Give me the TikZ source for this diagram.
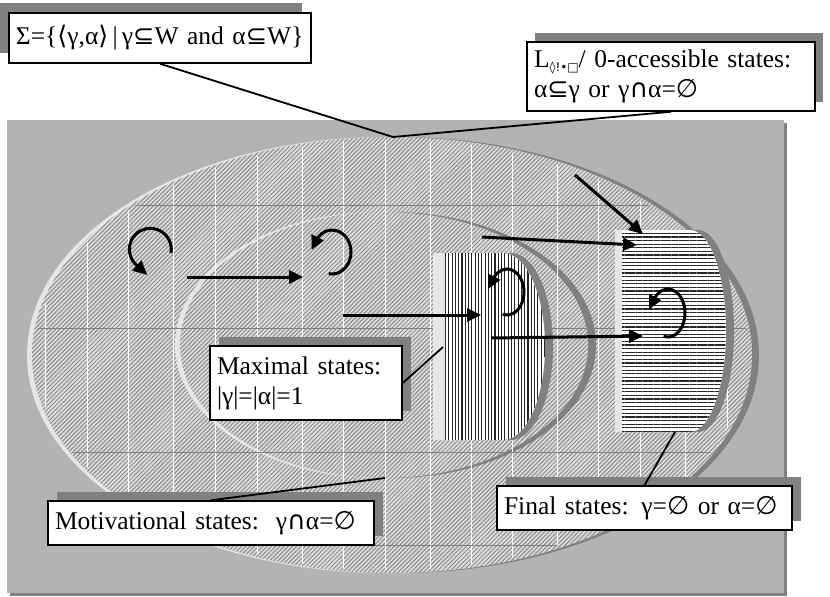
\documentclass[tikz,border=0pt]{standalone}
\usepackage{fontspec}
\setmainfont{Liberation Serif}
\newfontfamily\symf{DejaVu Sans}
\usetikzlibrary{arrows.meta,patterns.meta,shadows}

\definecolor{panel}{HTML}{B3B3B3}
\definecolor{rimdark}{HTML}{808080}
\definecolor{rimlight}{HTML}{E6E6E6}
\definecolor{hatchbase}{HTML}{DCDCDC}
\definecolor{hatchline}{HTML}{8C8C8C}

\newcommand{\sbe}{{\symf ⊆}}
\newcommand{\icap}{{\symf ∩}}
\newcommand{\eset}{{\symf ∅}}
\newcommand{\lang}{{\symf ⟨}}
\newcommand{\rang}{{\symf ⟩}}

\begin{document}
\begin{tikzpicture}[x=1pt, y=-1pt,
    lbl/.style={draw, line width=1.5pt, fill=white, inner xsep=7pt, inner ysep=0pt,
        align=left, font=\fontsize{25.5}{30}\selectfont},
    sh/.style 2 args={general shadow={fill=rimdark, shadow xshift=#1, shadow yshift=#2}},
    con/.style={line width=1.8pt},
    arr/.style={line width=3pt, -{Triangle[length=14pt, width=13pt]}},
    dhatch/.style={pattern={Lines[angle=45, distance=3pt, line width=1pt]}, pattern color=hatchline},
    vhatch/.style={pattern={Lines[angle=90, distance=3.3pt, line width=1.1pt]}, pattern color=black!85},
    hhatch/.style={pattern={Lines[angle=0, distance=3.6pt, line width=1.2pt]}, pattern color=black!85}]
    \useasboundingbox (0,0) rectangle (830,597);

    \coordinate (T) at (393,137);
    \coordinate (P) at (443,347);
    \coordinate (Q) at (385,478);
    \coordinate (R) at (675,432);

    \fill[rimdark] (10,123) rectangle (787,596);
    \fill[panel] (7,120) rectangle (784,593);

    \foreach \dx/\c in {-5/rimlight, 7/rimdark, 0/hatchbase}
        \fill[\c, xshift=\dx] (392,355) ellipse[x radius=360, y radius=218];
    \fill[dhatch] (392,355) ellipse[x radius=360, y radius=218];
    \foreach \dx/\c in {-5/rimlight, 8/rimdark, 0/hatchbase}
        \fill[\c, xshift=\dx] (384,345) ellipse[x radius=204, y radius=133];
    \fill[dhatch] (384,345) ellipse[x radius=204, y radius=133];

    \begin{scope}
        \clip (392,355) ellipse[x radius=357, y radius=215];
        \foreach \x in {45,87,128,173,215,257,302,343,385,430,471,512,557,598,640,685,727}
            \draw[white, line width=1pt] (\x,130) -- (\x,580);
        \foreach \y in {205,328,452,545}
            \draw[rimdark, line width=0.8pt] (20,\y) -- (770,\y);
    \end{scope}

    \foreach \dx/\c in {-12/rimlight, 8/rimdark, 0/white}
        \fill[\c, xshift=\dx] (445,253) -- (503,253) arc[start angle=-90, end angle=90, x radius=42, y radius=93.5] -- (445,440) -- cycle;
    \fill[vhatch] (445,253) -- (503,253) arc[start angle=-90, end angle=90, x radius=42, y radius=93.5] -- (445,440) -- cycle;

    \foreach \dx/\c in {-7/rimlight, 8/rimdark, 0/white}
        \fill[\c, xshift=\dx] (622,230) -- (690,230) arc[start angle=-90, end angle=90, x radius=36, y radius=101] -- (622,432) -- cycle;
    \fill[hhatch] (622,230) -- (690,230) arc[start angle=-90, end angle=90, x radius=36, y radius=101] -- (622,432) -- cycle;

    \coordinate (A1) at (187,277);
    \coordinate (A2) at (303,277);
    \coordinate (B1) at (343,315);
    \coordinate (B2) at (481,315);
    \coordinate (C1) at (491,338);
    \coordinate (C2) at (643,336);
    \coordinate (D1) at (482,237);
    \coordinate (D2) at (637,245);
    \coordinate (E1) at (575,175);
    \coordinate (E2) at (643,234);
    \draw[arr] (A1) -- (A2);
    \draw[arr] (B1) -- (B2);
    \draw[arr] (C1) -- (C2);
    \draw[arr] (D1) -- (D2);
    \draw[arr] (E1) -- (E2);

    \coordinate (L1) at (171,253);
    \coordinate (L2) at (328.7,273.7);
    \coordinate (L3) at (502.6,314.2);
    \coordinate (L4) at (663.6,336.2);
    \draw[arr] (L1) arc[start angle=10, end angle=-228, radius=21] -- ++(11,10);
    \draw[arr] (L2) arc[start angle=100, end angle=-140, x radius=19, y radius=22] -- ++(-6,12);
    \draw[arr] (L3) arc[start angle=105, end angle=-140, x radius=17, y radius=23] -- ++(-6,12);
    \draw[arr] (L4) arc[start angle=105, end angle=-140, x radius=17, y radius=24] -- ++(-6,12);

    \node[lbl, sh={-9pt}{10pt}, text width=288pt, minimum height=50pt] (S) at (160,38)
        {\mbox{Σ=\{\lang γ,α\rang\,|\,γ\sbe W and α\sbe W\}}};
    \node[lbl, sh={8pt}{9pt}, text width=274pt, minimum height=69pt] (L) at (671,76.5)
        {\mbox{L\raisebox{-4pt}{\fontsize{12}{12}\selectfont\symf ◊!•□}/ 0-accessible states:}\\
         \mbox{α\sbe γ or γ\icap α=\eset}};
    \node[lbl, sh={9pt}{9pt}, text width=178pt, minimum height=74pt] (M) at (306,383)
        {\mbox{Maximal states:}\\ \mbox{|γ|=|α|=1}};
    \node[lbl, sh={9pt}{9pt}, text width=312pt, minimum height=44pt] (V) at (211,523)
        {\mbox{Motivational states:\ \ γ\icap α=\eset}};
    \node[lbl, sh={9pt}{9pt}, text width=281pt, minimum height=44pt] (F) at (644.5,508)
        {\mbox{Final states: γ=\eset{} or α=\eset}};

    \draw[con] (S.south) -- (T);
    \draw[con] (L.south) -- (T);
    \draw[con] (M.east) -- (P);
    \draw[con] (V.north) -- (Q);
    \draw[con] (F.north) -- (R);
\end{tikzpicture}
\end{document}
